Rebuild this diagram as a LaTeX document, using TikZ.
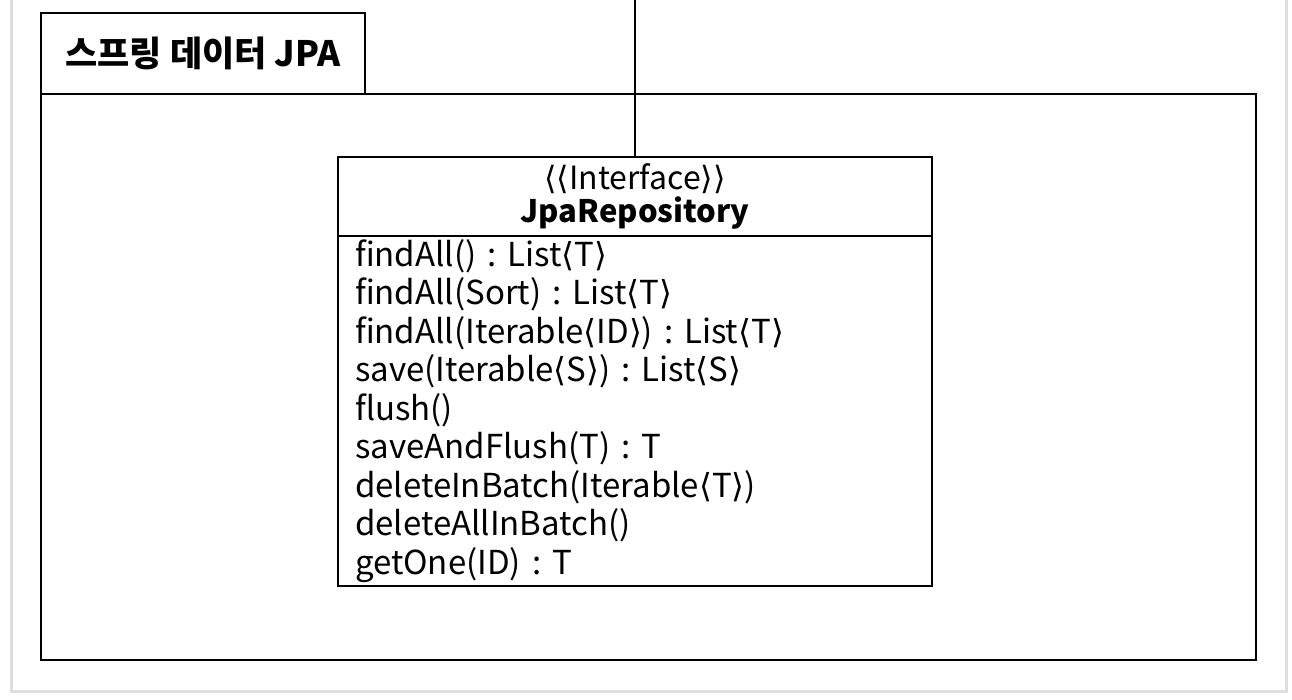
\documentclass[tikz,border=0pt]{standalone}
\usepackage{fontspec}
\setmainfont{Noto Sans CJK KR}
\newfontfamily\symfont{DejaVu Sans}
\usetikzlibrary{positioning}
\newcommand{\la}{{\symfont\char"27E8}}
\newcommand{\ra}{{\symfont\char"27E9}}
\frenchspacing

\begin{document}
\begin{tikzpicture}[x=1pt, y=-1pt]
  \tikzset{pkgbox/.style={draw, line width=2.5pt, inner sep=0pt, outer sep=0pt},
           classhead/.style={draw, line width=2.5pt, align=center, minimum width=594pt, minimum height=79pt,
                             inner sep=0pt, outer sep=0pt},
           classbody/.style={draw, line width=2.5pt, align=left, text width=560pt, inner xsep=17pt, inner ysep=0pt,
                             outer sep=0pt, minimum height=350pt,
                             font=\fontsize{33pt}{38.5pt}\selectfont}}
  \useasboundingbox (0,0) rectangle (1292,700);
  \draw[black!13, line width=3pt] (11,-10) -- (11,691) -- (1286,691) -- (1286,-10);
  \node[pkgbox, anchor=north west, minimum width=324pt, minimum height=81pt,
        font=\fontsize{35pt}{40pt}\selectfont\bfseries] (tab) at (41,13) {스프링 데이터 JPA};
  \node[pkgbox, anchor=north west, minimum width=1215pt, minimum height=566pt] (pkg) at (tab.south west) {};
  \node[classhead, anchor=north] (repo) at (635,157)
    {\fontsize{32pt}{37pt}\selectfont \la\la Interface\ra\ra\\[2pt]
     \fontsize{31pt}{37pt}\selectfont\bfseries JpaRepository};
  \node[classbody, below=0pt of repo] (repobody) {findAll() : List\la T\ra\\
    findAll(Sort) : List\la T\ra\\
    findAll(Iterable\la ID\ra) : List\la T\ra\\
    save(Iterable\la S\ra) : List\la S\ra\\
    flush()\\
    saveAndFlush(T) : T\\
    deleteInBatch(Iterable\la T\ra)\\
    deleteAllInBatch()\\
    getOne(ID) : T};
  \coordinate (wire) at (635,0);
  \draw[line width=2.5pt] (wire) -- (repo.north);
\end{tikzpicture}
\end{document}
